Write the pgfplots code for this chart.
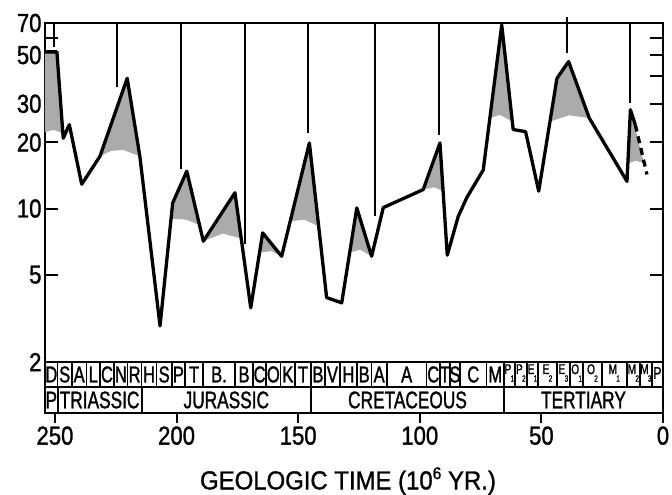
\documentclass[border=0pt]{standalone}
\usepackage{fontspec}
\setmainfont{Liberation Sans}[FakeStretch=0.85,FakeBold=1.2]
\newfontfamily\tabfont{Liberation Sans}[FakeStretch=0.72,FakeBold=1.2]
\newfontfamily\lblfont{Liberation Sans}[FakeStretch=0.92,FakeBold=1.2]
\usepackage{pgfplots}
\pgfplotsset{compat=1.18}
% letter with its index set low beside it, as in the Tertiary cells
\newcommand\sub[2]{#1\kern-0.05em\raisebox{-0.55em}{\fontsize{9}{9}\selectfont #2}}

\begin{document}
\begin{tikzpicture}
\begin{axis}[
    scale only axis,
    width=618pt, height=390pt,
    x dir=reverse,
    xmin=0, xmax=254.1,
    ymode=log,
    ymin=1.1717, ymax=70,
    clip=false,
    axis line style={line width=2.3pt},
    /pgf/number format/assume math mode=true,
    ticklabel style={font=\fontsize{26}{28}\selectfont},
    ytick={2,5,10,20,30,40,50,60,70},
    yticklabels={2,5,10,20,30,,50,,70},
    minor ytick={},
    major tick length=13pt,
    tick style={line width=2pt, black},
    xtick=\empty,
    xtick pos=left,
    extra x ticks={0,50,100,150,200,250},
    extra x tick labels={0,50,100,150,200,250},
    extra tick style={tick align=outside, major tick length=10pt},
]

% stippled areas under the peaks
\addplot[fill=black!33, draw=none] coordinates {(254.1,51.7)(249.2,51.7)(246.75,22.0)(250.5,22.8)(254.1,22.3)} -- cycle;
\addplot[fill=black!33, draw=none] coordinates {(231.5,17.3)(220.3,39.2)(215.1,17.3)(221.9,18.5)(227,18.3)} -- cycle;
\addplot[fill=black!33, draw=none] coordinates {(202.26,9.0)(201.6,10.6)(195.8,14.8)(190.56,8.4)(196,8.9)} -- cycle;
\addplot[fill=black!33, draw=none] coordinates {(189.0,7.1)(176.0,11.8)(173.4,7.3)(181,7.7)} -- cycle;
\addplot[fill=black!33, draw=none] coordinates {(165.9,6.3)(164.6,7.75)(156.8,6.06)(161,6.4)} -- cycle;
\addplot[fill=black!33, draw=none] coordinates {(153.3,8.75)(145.4,19.9)(141.6,8.3)(147.5,8.9)} -- cycle;
\addplot[fill=black!33, draw=none] coordinates {(128.8,6.3)(125.9,10.07)(119.8,6.06)(124.5,6.5)} -- cycle;
\addplot[fill=black!33, draw=none] coordinates {(98.6,12.2)(91.7,19.9)(90.4,12.0)(94,12.5)} -- cycle;
\addplot[fill=black!33, draw=none] coordinates {(71.2,25.8)(66.3,68.6)(61.96,24.9)(67,26.7)} -- cycle;
\addplot[fill=black!33, draw=none] coordinates {(46.5,24.9)(43.6,39.2)(38.8,46.7)(30.3,25.8)(38.5,26.6)} -- cycle;
\addplot[fill=black!33, draw=none] coordinates {(14.44,16.1)(13.4,28.2)(7.79,16.1)(11,16.5)} -- cycle;

% main curve
\addplot[black, line width=3.3pt, line join=round] coordinates {
(254.1,51.7)(249.2,51.7)(246.6,20.9)(244.1,24.1)(239.0,12.9)(231.5,17.3)
(220.3,39.2)(215.1,17.3)(206.8,2.92)(201.6,10.6)(195.8,14.8)(189.0,7.1)
(176.0,11.8)(169.5,3.53)(164.6,7.75)(156.8,6.06)(145.4,19.9)(138.3,3.93)
(132.1,3.72)(125.9,10.07)(119.8,6.06)(115.0,10.1)(98.6,12.2)(91.7,19.9)
(88.7,6.13)(84.2,9.2)(80.7,11.2)(73.9,15.0)(66.3,68.6)(61.6,22.9)
(56.5,22.4)(51.1,12.0)(43.6,39.2)(38.8,46.7)(30.3,25.8)(14.8,13.3)
(13.4,28.2)(11.4,24.1)
};
\addplot[black, line width=3.3pt, dash pattern=on 7pt off 5pt] coordinates {(11.4,24.1)(6.6,14.3)};

% extinction markers
\addplot[black, line width=2pt] coordinates {(250.4,70)(250.4,54.6)};
\addplot[black, line width=2pt] coordinates {(224.4,70)(224.4,35.9)};
\addplot[black, line width=2pt] coordinates {(198.3,70)(198.3,15.2)};
\addplot[black, line width=2pt] coordinates {(171.9,70)(171.9,6.86)};
\addplot[black, line width=2pt] coordinates {(145.8,70)(145.8,22.1)};
\addplot[black, line width=2pt] coordinates {(118.4,70)(118.4,9.2)};
\addplot[black, line width=2pt] coordinates {(92.1,70)(92.1,21.7)};
\addplot[black, line width=2pt] coordinates {(39.5,74.7)(39.5,51.0)};
\addplot[black, line width=2pt] coordinates {(13.7,70)(13.7,30.2)};
\end{axis}

% stage and period table
\begin{scope}[x=-2.43211pt, y=1pt, xshift=618pt]
\draw[line width=2pt] (254.1,51) -- (0,51);
\draw[line width=2pt] (254.1,26) -- (0,26);
\foreach \b in {248.9,243.1,237.0,231.5,225.7,220.1,214.4,208.2,202.0,196.5,
  189.1,176.0,168.5,163.2,157.2,151.3,144.7,139.0,132.8,125.9,119.8,113.6,
  97.2,91.7,87.6,83.5,72.5,65.4,60.9,56.0,51.3,43.7,38.2,32.8,25.2,14.9,9.5,4.6}
  \draw[line width=1.6pt] (\b,26) -- (\b,51);
\foreach \b in {248.9,214.4,144.7,65.4}
  \draw[line width=2pt] (\b,0) -- (\b,26);
\foreach \c/\t in {251.5/D,246.0/S,240.05/A,234.25/L,228.6/C,222.9/N,217.25/R,
  211.3/H,205.1/S,199.25/P,192.8/T,182.55/B.,172.25/B,165.85/C,160.2/O,
  154.25/K,148.0/T,141.85/B,135.9/V,129.35/H,122.85/B,116.7/A,105.4/A,
  94.45/C,89.65/T,85.55/S,78.0/C,68.95/M}
  \node[font=\tabfont\fontsize{23}{23}\selectfont, inner sep=0] at (\c,38.5) {\t};
\foreach \c/\t in {63.15/{\sub{P}{1}},58.45/{\sub{P}{2}},53.65/{\sub{E}{1}},
  47.5/{\sub{E}{2}},40.95/{\sub{E}{3}},35.5/{\sub{O}{1}},29.0/{\sub{O}{2}},
  20.05/{\sub{M}{1}},12.2/{\sub{M}{2}},7.05/{\sub{M}{3}}}
  \node[font=\tabfont\fontsize{14}{14}\selectfont, inner sep=0] at (\c,40) {\t};
\node[font=\tabfont\fontsize{17}{17}\selectfont, inner sep=0] at (2.3,40) {P};
\foreach \c/\t in {251.5/P,231.65/TRIASSIC,179.55/JURASSIC,105.05/CRETACEOUS,32.7/TERTIARY}
  \node[font=\tabfont\fontsize{24}{24}\selectfont, inner sep=0] at (\c,13) {\t};
\end{scope}

\node[font=\lblfont\fontsize{26}{28}\selectfont, inner sep=4pt] at (303pt,-68pt)
  {GEOLOGIC TIME (10\raisebox{0.75ex}{\fontsize{17}{17}\selectfont 6} YR.)};

\pgfresetboundingbox
\path[use as bounding box] (-45pt,-82pt) rectangle (627pt,413pt);
\end{tikzpicture}
\end{document}
